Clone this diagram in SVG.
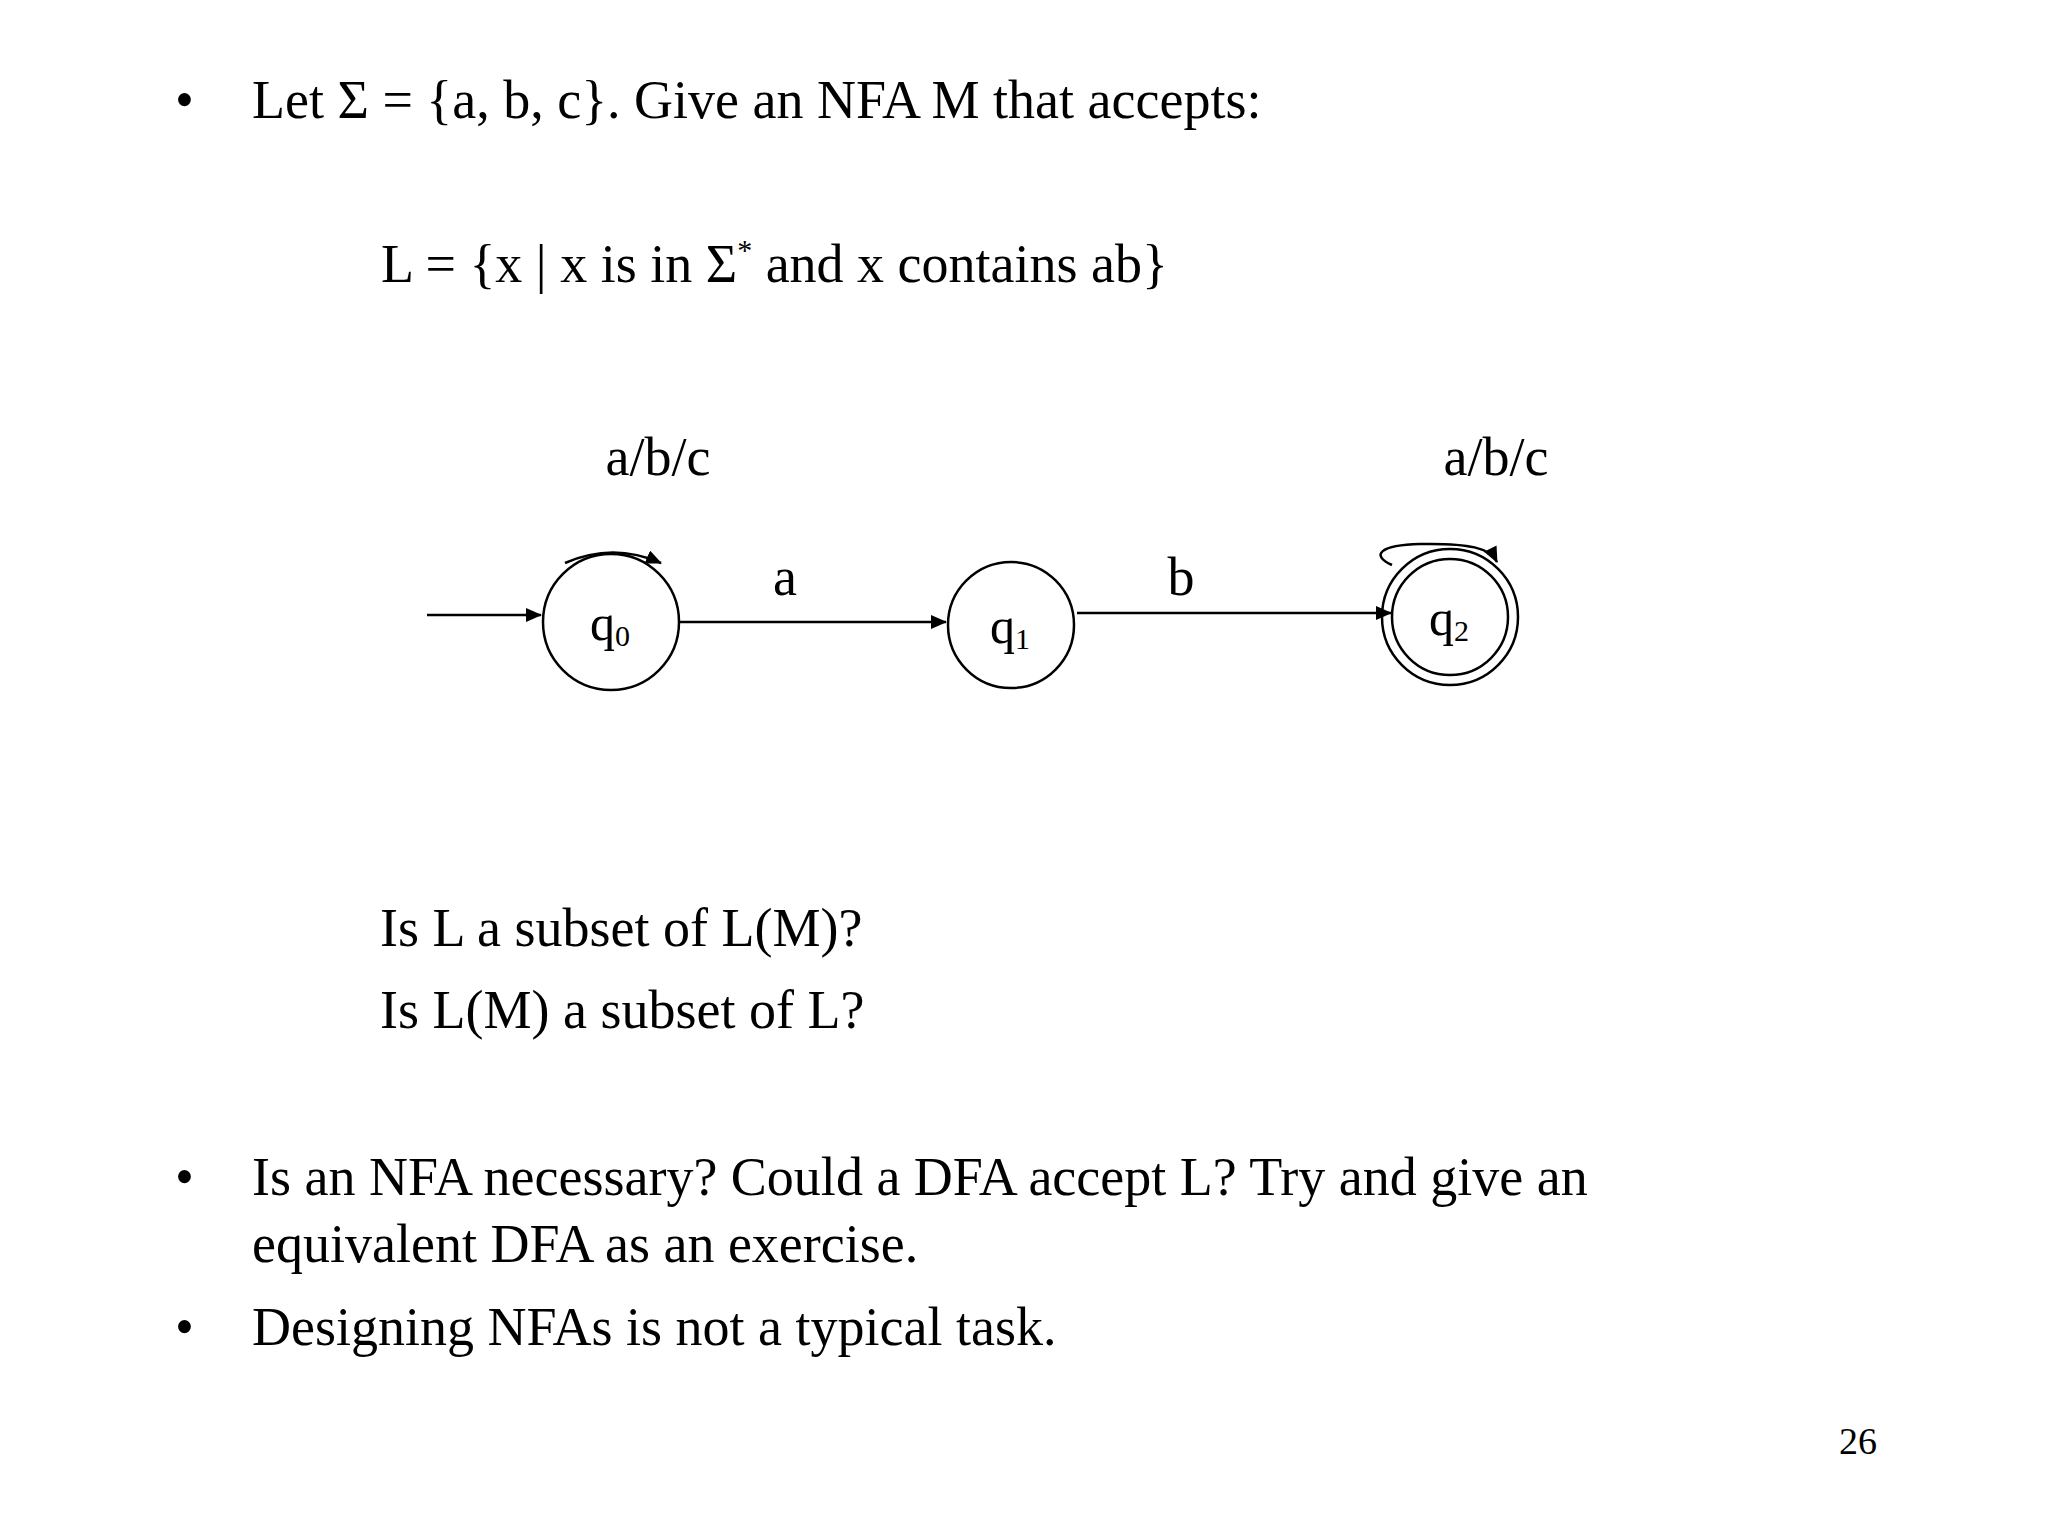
<svg xmlns="http://www.w3.org/2000/svg" width="2048" height="1536" viewBox="0 0 2048 1536">
<style>
text{font-family:"Liberation Serif","Times New Roman",serif;fill:#000}
.t{font-size:54px}
.s{fill:none;stroke:#000;stroke-width:2.5}
.q{font-size:50px}
</style>
<defs><marker id="ah" markerWidth="10" markerHeight="10" refX="9" refY="5" orient="auto" markerUnits="userSpaceOnUse"><path d="M0,0 L10,5 L0,10 z" fill="#000"/></marker>
<marker id="ah2" markerWidth="16" markerHeight="14" refX="15" refY="7" orient="auto" markerUnits="userSpaceOnUse"><path d="M0,0 L16,7 L0,14 z" fill="#000"/></marker></defs>
<rect width="2048" height="1536" fill="#fff"/>
<text class="t" x="175" y="118">•</text>
<text class="t" x="252" y="118">Let Σ = {a, b, c}. Give an NFA M that accepts:</text>
<text class="t" x="381" y="282">L = {x | x is in Σ<tspan font-size="30" dy="-22">*</tspan><tspan dy="22"> and x contains ab}</tspan></text>
<g id="connectors">
<line class="s" x1="427" y1="615" x2="541" y2="615" marker-end="url(#ah2)"/>
<line class="s" x1="680" y1="622" x2="946" y2="622" marker-end="url(#ah2)"/>
<line class="s" x1="1077" y1="613" x2="1391" y2="613" marker-end="url(#ah2)"/>
<path class="s" d="M565,563 Q613,542 661,563" marker-end="url(#ah2)"/>
<path class="s" d="M1392,565 C1370,555 1380,545 1420,544 C1470,543 1490,548 1497,562" marker-end="url(#ah2)"/>
</g>
<text class="t" x="658" y="475" text-anchor="middle">a/b/c</text>
<text class="t" x="1496" y="475" text-anchor="middle">a/b/c</text>
<text class="t" x="785" y="595" text-anchor="middle">a</text>
<text class="t" x="1181" y="595" text-anchor="middle">b</text>
<g id="q0"><circle class="s" cx="611" cy="622" r="68"/><text class="q" x="590" y="640">q<tspan font-size="30" dy="6">0</tspan></text></g>
<g id="q1"><circle class="s" cx="1011" cy="625" r="63"/><text class="q" x="990" y="643">q<tspan font-size="30" dy="6">1</tspan></text></g>
<g id="q2"><circle class="s" cx="1450" cy="617" r="68"/><circle class="s" cx="1450" cy="617" r="58"/><text class="q" x="1429" y="635">q<tspan font-size="30" dy="6">2</tspan></text></g>
<text class="t" x="380" y="946">Is L a subset of L(M)?</text>
<text class="t" x="380" y="1028">Is L(M) a subset of L?</text>
<text class="t" x="175" y="1195">•</text>
<text class="t" x="252" y="1195">Is an NFA necessary? Could a DFA accept L? Try and give an</text>
<text class="t" x="252" y="1262">equivalent DFA as an exercise.</text>
<text class="t" x="175" y="1345">•</text>
<text class="t" x="252" y="1345">Designing NFAs is not a typical task.</text>
<text x="1858" y="1454" font-size="38" text-anchor="middle">26</text>
</svg>
